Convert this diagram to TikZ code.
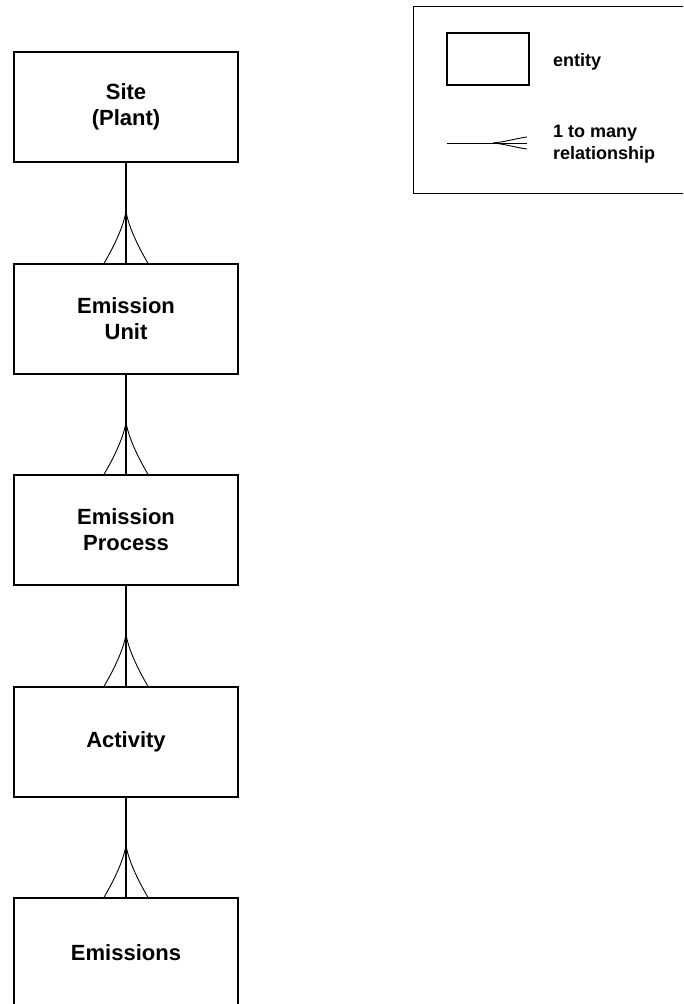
\documentclass[tikz,border=0pt]{standalone}
\usepackage{fontspec}
\setmainfont{Liberation Sans}
\usetikzlibrary{calc}
\begin{document}
\begin{tikzpicture}[x=1pt,y=-1pt,
  entity/.style={draw, line width=1.3pt, minimum width=224pt, minimum height=110pt,
    inner sep=0pt, align=center, font=\fontsize{22}{26}\selectfont\bfseries},
  link/.style={line width=1.1pt},
  foot/.style={line width=0.9pt},
  legendtext/.style={anchor=west, align=left, inner sep=0pt,
    font=\fontsize{18}{22}\selectfont\bfseries}]

% page frame
\useasboundingbox (0,0) rectangle (683,1004);
\fill[white] (0,0) rectangle (683,1004);
\clip (0,0) rectangle (683,1004);

% entity chain
\node[entity] (site)      at (126,107) {Site\\(Plant)};
\node[entity] (unit)      at (126,319) {Emission\\Unit};
\node[entity] (process)   at (126,530) {Emission\\Process};
\node[entity] (activity)  at (126,742) {Activity};
\node[entity] (emissions) at (126,953) {Emissions};

% one-to-many links with crow's feet at the child end
\foreach \p/\c in {site/unit, unit/process, process/activity, activity/emissions}{
  \draw[link] (\p.south) -- (\c.north);
  \coordinate (\c-apex)  at ($(\c.north)+(0,-52)$);
  \coordinate (\c-footl) at ($(\c.north)+(-22,0)$);
  \coordinate (\c-footr) at ($(\c.north)+(22,0)$);
  \draw[foot] (\c-apex) .. controls +(-3,18) and +(7,-12) .. (\c-footl);
  \draw[foot] (\c-apex) .. controls +(3,18) and +(-7,-12) .. (\c-footr);
}

% legend
\node[draw, line width=1.1pt, minimum width=300pt, minimum height=187pt,
      anchor=north west, inner sep=0pt] (legend) at (413,6) {};
\node[draw, line width=1.1pt, minimum width=82pt, minimum height=52pt,
      inner sep=0pt] (legend-entity) at (488,59) {};
\node[legendtext] (legend-entity-label) at (553,62) {entity};

\coordinate (rel-start) at (447,143);
\coordinate (rel-apex)  at (493,143);
\coordinate (rel-end)   at (527,143);
\coordinate (rel-footu) at (527,137);
\coordinate (rel-footd) at (527,149);
\draw[foot] (rel-start) -- (rel-end);
\draw[foot] (rel-apex) .. controls +(12,-1) and +(-9,1) .. (rel-footu);
\draw[foot] (rel-apex) .. controls +(12,1) and +(-9,-1) .. (rel-footd);
\node[legendtext] (legend-rel-label) at (553,144) {1 to many\\relationship};

\end{tikzpicture}
\end{document}
